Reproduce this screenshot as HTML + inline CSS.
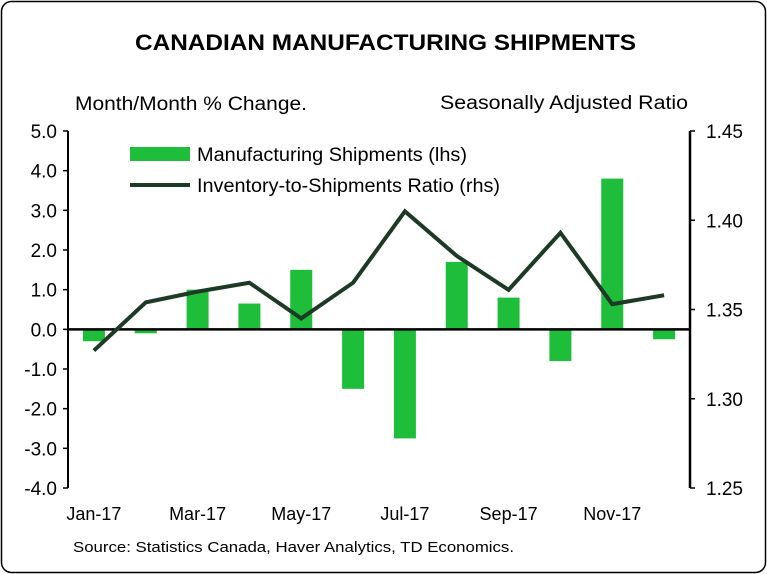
<!DOCTYPE html>
<html><head><meta charset="utf-8"><style>
body{margin:0;background:#fff;}
svg{display:block;font-family:"Liberation Sans",Arial,sans-serif;}
</style></head><body>
<svg id="chart" width="767" height="574" viewBox="0 0 767 574">
<rect x="1.5" y="1.5" width="764" height="571" rx="10" fill="#fff" stroke="#000" stroke-width="1.5"/>
<text x="135" y="50" font-size="22" font-weight="bold" textLength="501" lengthAdjust="spacingAndGlyphs">CANADIAN MANUFACTURING SHIPMENTS</text>
<text x="75" y="110" font-size="19" textLength="232" lengthAdjust="spacingAndGlyphs">Month/Month % Change.</text>
<text x="440" y="109" font-size="19" textLength="248" lengthAdjust="spacingAndGlyphs">Seasonally Adjusted Ratio</text>
<text x="73" y="552" font-size="15" textLength="441" lengthAdjust="spacingAndGlyphs">Source: Statistics Canada, Haver Analytics, TD Economics.</text>
<g id="g"></g>
<g>
<rect x="130" y="147" width="60" height="14" fill="#1fbe3a"/>
<text x="197" y="161" font-size="19" textLength="270" lengthAdjust="spacingAndGlyphs">Manufacturing Shipments (lhs)</text>
<line x1="130" y1="185" x2="190" y2="185" stroke="#1c3a25" stroke-width="4"/>
<text x="197" y="192" font-size="19" textLength="303" lengthAdjust="spacingAndGlyphs">Inventory-to-Shipments Ratio (rhs)</text>
</g>
</svg>
<script>
const months=["Jan-17","Feb-17","Mar-17","Apr-17","May-17","Jun-17","Jul-17","Aug-17","Sep-17","Oct-17","Nov-17","Dec-17"];
const shipments=[-0.3,-0.1,1.0,0.65,1.5,-1.5,-2.75,1.7,0.8,-0.8,3.8,-0.25];
const ratio=[1.327,1.354,1.360,1.365,1.345,1.365,1.405,1.380,1.361,1.393,1.353,1.358];
const leftTicks=["5.0","4.0","3.0","2.0","1.0","0.0","-1.0","-2.0","-3.0","-4.0"];
const rightTicks=["1.45","1.40","1.35","1.30","1.25"];
const xLabels=["Jan-17","Mar-17","May-17","Jul-17","Sep-17","Nov-17"];
const NS="http://www.w3.org/2000/svg",g=document.getElementById("g");
const X0=68,X1=690,T=131,B=488;
const yL=v=>T+(5-v)/9*(B-T);
const yR=v=>T+(1.45-v)/0.2*(B-T);
const xC=i=>X0+(X1-X0)/months.length*(i+0.5);
function mk(t,a){const e=document.createElementNS(NS,t);for(const k in a)e.setAttribute(k,a[k]);g.appendChild(e);return e;}
shipments.forEach((v,i)=>{
const r=mk("rect",{x:xC(i)-11,y:Math.min(yL(v),yL(0)),width:22,height:Math.abs(yL(v)-yL(0)),fill:"#1fbe3a"});


});
let l=mk("line",{x1:X0,y1:yL(0),x2:X1,y2:yL(0),stroke:"#000","stroke-width":2.5});


l=mk("line",{x1:X0,y1:T,x2:X0,y2:B,stroke:"#000","stroke-width":2});


l=mk("line",{x1:X1,y1:T,x2:X1,y2:B,stroke:"#000","stroke-width":2.5});


leftTicks.forEach(s=>{const v=parseFloat(s);
const t=mk("text",{x:57,y:yL(v)+7,"text-anchor":"end","font-size":19});t.textContent=s;


const k=mk("line",{x1:X0-5,y1:yL(v),x2:X0,y2:yL(v),stroke:"#000","stroke-width":1.5});

});
rightTicks.forEach(s=>{const v=parseFloat(s);
const t=mk("text",{x:706,y:yR(v)+7,"font-size":19});t.textContent=s;


const k=mk("line",{x1:X1,y1:yR(v),x2:X1+5,y2:yR(v),stroke:"#000","stroke-width":1.5});

});
xLabels.forEach(s=>{const i=months.indexOf(s);
const t=mk("text",{x:xC(i),y:520,"text-anchor":"middle","font-size":18});t.textContent=s;

});
const p=mk("polyline",{points:ratio.map((v,i)=>xC(i)+","+yR(v)).join(" "),fill:"none",stroke:"#1c3a25","stroke-width":4,"stroke-linejoin":"miter"});


</script>
</body></html>
